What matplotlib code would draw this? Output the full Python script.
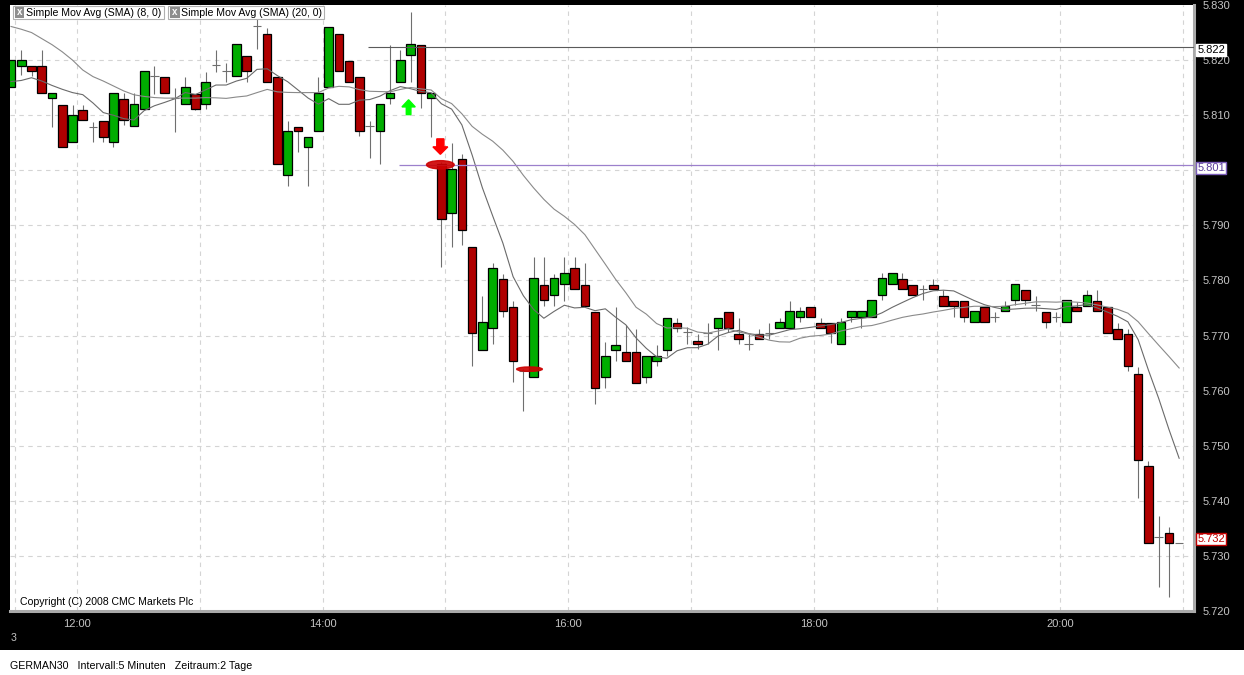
import numpy as np
import pandas as pd
import matplotlib
matplotlib.use("Agg")
import matplotlib.pyplot as plt
from matplotlib.patches import Rectangle, Ellipse, FancyArrow
from matplotlib.transforms import blended_transform_factory

plt.rcParams["font.family"] = ["Liberation Sans", "DejaVu Sans"]

# ── GERMAN30, 5-Minuten-Kerzen (Punkte) ─────────────────────
opens = [5815.1, 5818.9, 5818.9, 5818.9, 5813.2, 5811.9, 5805.2, 5811.0, 5807.9, 5809.0,
         5805.2, 5813.0, 5808.1, 5811.2, 5817.1, 5817.0, 5813.2, 5812.1, 5813.9, 5812.1,
         5819.1, 5818.0, 5817.1, 5820.8, 5826.2, 5824.7, 5817.0, 5799.2, 5807.9, 5804.3,
         5807.2, 5815.1, 5824.7, 5819.9, 5817.0, 5808.1, 5807.2, 5813.2, 5816.0, 5820.9,
         5822.8, 5813.2, 5801.2, 5792.3, 5802.1, 5786.1, 5767.3, 5771.3, 5780.2, 5775.1,
         5763.5, 5762.4, 5779.1, 5777.3, 5779.3, 5782.2, 5779.1, 5774.2, 5762.4, 5767.3,
         5767.1, 5767.1, 5762.4, 5765.3, 5767.3, 5772.2, 5770.6, 5769.1, 5770.4, 5771.3,
         5774.2, 5770.2, 5768.4, 5770.2, 5770.4, 5771.3, 5771.3, 5773.3, 5775.1, 5772.2,
         5772.2, 5768.4, 5773.3, 5773.3, 5773.3, 5777.3, 5779.3, 5780.2, 5779.1, 5778.4,
         5779.1, 5777.1, 5776.2, 5776.2, 5772.4, 5775.1, 5773.3, 5774.4, 5776.4, 5778.2,
         5775.5, 5774.2, 5773.3, 5772.4, 5775.1, 5775.3, 5776.2, 5775.1, 5771.1, 5770.2,
         5763.1, 5746.3, 5733.4, 5734.1, 5732.3]
highs = [5820.0, 5821.8, 5818.9, 5821.8, 5814.1, 5811.9, 5811.9, 5811.9, 5808.8, 5809.0,
         5814.1, 5814.0, 5814.0, 5818.0, 5818.9, 5817.0, 5815.0, 5817.0, 5813.9, 5817.9,
         5821.8, 5819.5, 5822.9, 5820.8, 5829.6, 5825.8, 5817.0, 5809.0, 5807.9, 5806.1,
         5817.0, 5826.0, 5824.7, 5819.9, 5817.0, 5809.0, 5812.1, 5822.8, 5821.8, 5828.7,
         5822.8, 5814.1, 5801.5, 5805.0, 5803.0, 5786.1, 5777.1, 5783.1, 5781.1, 5776.2,
         5763.9, 5784.2, 5784.2, 5781.1, 5784.2, 5784.2, 5783.1, 5774.2, 5768.9, 5775.1,
         5772.0, 5771.1, 5766.2, 5768.3, 5773.1, 5773.1, 5771.6, 5770.2, 5772.2, 5773.1,
         5774.2, 5773.1, 5770.2, 5771.1, 5772.2, 5773.1, 5776.2, 5775.1, 5775.1, 5773.1,
         5772.2, 5773.1, 5774.4, 5774.4, 5776.4, 5781.3, 5781.3, 5781.3, 5779.1, 5779.1,
         5780.2, 5778.2, 5776.2, 5776.2, 5774.4, 5775.1, 5774.2, 5776.2, 5779.3, 5778.2,
         5777.1, 5774.2, 5774.2, 5776.4, 5776.0, 5778.2, 5778.2, 5775.1, 5772.2, 5771.1,
         5764.2, 5747.2, 5737.2, 5735.2, 5732.3]
lows = [5815.1, 5817.3, 5817.1, 5814.1, 5807.9, 5804.3, 5805.2, 5809.2, 5805.2, 5805.2,
        5804.3, 5808.3, 5808.1, 5811.2, 5813.9, 5814.1, 5807.0, 5812.1, 5811.0, 5811.2,
        5817.9, 5816.0, 5817.1, 5816.0, 5822.0, 5816.0, 5801.2, 5797.2, 5803.4, 5797.2,
        5807.2, 5815.1, 5818.0, 5816.0, 5806.3, 5802.3, 5801.2, 5812.1, 5816.0, 5816.0,
        5811.3, 5806.1, 5782.5, 5786.1, 5786.5, 5764.4, 5767.3, 5768.4, 5773.3, 5761.5,
        5756.3, 5762.4, 5775.3, 5775.3, 5776.2, 5778.4, 5775.3, 5757.5, 5760.4, 5765.3,
        5765.3, 5761.3, 5761.3, 5764.4, 5766.2, 5770.6, 5768.4, 5767.5, 5768.4, 5767.3,
        5770.6, 5768.4, 5767.3, 5769.3, 5769.3, 5771.3, 5771.3, 5772.4, 5773.3, 5771.3,
        5768.6, 5768.4, 5772.4, 5771.4, 5773.3, 5776.4, 5779.3, 5778.4, 5777.3, 5776.4,
        5778.4, 5775.3, 5773.3, 5772.4, 5772.4, 5772.4, 5772.4, 5774.4, 5775.5, 5775.5,
        5774.4, 5771.4, 5772.4, 5772.4, 5774.4, 5775.3, 5774.4, 5770.4, 5769.3, 5763.5,
        5740.5, 5732.3, 5724.4, 5722.5, 5732.3]
closes = [5820.0, 5820.0, 5818.0, 5814.1, 5814.1, 5804.3, 5810.1, 5809.2, 5807.9, 5806.1,
          5814.1, 5809.2, 5812.1, 5818.0, 5817.1, 5814.1, 5813.2, 5815.1, 5811.2, 5816.0,
          5819.1, 5818.0, 5822.9, 5818.0, 5826.2, 5816.0, 5801.2, 5807.2, 5807.2, 5806.1,
          5814.1, 5826.0, 5818.0, 5816.0, 5807.2, 5808.1, 5812.1, 5814.1, 5820.0, 5822.9,
          5814.1, 5814.1, 5791.2, 5800.3, 5789.2, 5770.4, 5772.4, 5782.3, 5774.4, 5765.3,
          5763.5, 5780.4, 5776.4, 5780.4, 5781.3, 5778.4, 5775.3, 5760.4, 5766.2, 5768.3,
          5765.3, 5761.3, 5766.2, 5766.2, 5773.1, 5771.3, 5770.6, 5768.4, 5770.4, 5773.1,
          5771.3, 5769.3, 5768.4, 5769.3, 5770.4, 5772.4, 5774.4, 5774.4, 5773.3, 5771.3,
          5770.4, 5772.4, 5774.4, 5774.4, 5776.4, 5780.4, 5781.3, 5778.4, 5777.3, 5778.4,
          5778.4, 5775.3, 5775.3, 5773.3, 5774.4, 5772.4, 5773.3, 5775.3, 5779.3, 5776.4,
          5775.5, 5772.4, 5773.3, 5776.4, 5774.4, 5777.3, 5774.4, 5770.4, 5769.3, 5764.4,
          5747.4, 5732.3, 5733.4, 5732.3, 5732.3]

# SMA-Werte am Anfang (Fenster noch nicht voll, aus dem Chart abgelesen)
sma8_head = [5816.1, 5816.3, 5816.8, 5816.2, 5815.4, 5814.7, 5814.1]
sma20_head = [5826.1, 5825.6, 5825.0, 5823.9, 5822.8, 5821.5, 5820.0, 5818.2, 5817.0, 5816.2,
              5815.3, 5814.4, 5813.7, 5813.4, 5813.2, 5813.1, 5813.1, 5813.1, 5813.1]

price_ticks = [5720, 5730, 5740, 5750, 5760, 5770, 5780, 5790, 5800, 5810, 5820, 5830]
grid_times = ["11:30", "12:00", "13:00", "14:00", "15:00", "16:00", "17:00",
              "18:00", "19:00", "20:00", "21:00"]
time_labels = ["12:00", "14:00", "16:00", "18:00", "20:00"]
first_bar_time = "11:28"

line_black = 5822.3     # Linie "5.822"
line_purple = 5801.0    # Linie "5.801"
last_price = 5732.3

# ── Farben ───────────────────────────────────────────────────
GREEN = "#00ad00"
RED = "#b00000"
WICK = "#6f6f6f"
GRID = "#d4d4d4"
AXTXT = "#c4c4c4"

W, H = 1244, 675
fig = plt.figure(figsize=(W / 100, H / 100), dpi=100, facecolor="black")
ax = fig.add_axes([10 / W, (H - 611) / H, 1184 / W, 606 / H])
ax.set_facecolor("white")

def tmin(s):
    h, m = s.split(":")
    return int(h) * 60 + int(m)

def tpos(s):
    return (tmin(s) - tmin(first_bar_time)) / 5.0

n = len(closes)
x = np.arange(n)
o = np.array(opens); h = np.array(highs); l = np.array(lows); c = np.array(closes)
BW = 0.84

# Gitter
for t in grid_times:
    ax.axvline(tpos(t), color=GRID, lw=0.8, ls=(0, (4, 4)), zorder=0)
for p in price_ticks[1:-1]:
    ax.axhline(p, color=GRID, lw=0.8, ls=(0, (4, 4)), zorder=0)

# Dochte
ax.vlines(x, l, h, color=WICK, lw=0.8, zorder=1)
# Doji
doji = o == c
ax.hlines(o[doji], x[doji] - BW / 2, x[doji] + BW / 2, color=WICK, lw=0.8, zorder=1)
# Körper
up = c > o
dn = c < o
ax.bar(x[up], (c - o)[up], bottom=o[up], width=BW, color=GREEN,
       edgecolor="black", linewidth=0.9, zorder=2)
ax.bar(x[dn], (o - c)[dn], bottom=c[dn], width=BW, color=RED,
       edgecolor="black", linewidth=0.9, zorder=2)

# gleitende Durchschnitte
sma8 = pd.Series(closes).rolling(8).mean().to_numpy()
sma8[:len(sma8_head)] = sma8_head
sma20 = pd.Series(closes).rolling(20).mean().to_numpy()
sma20[:len(sma20_head)] = sma20_head
ax.plot(x, sma8, color="#6a6a6a", lw=0.8, zorder=3)
ax.plot(x, sma20, color="#8a8a8a", lw=0.8, zorder=3)

x0, x1 = -0.1, 115.45
ax.set_xlim(x0, x1)
ax.set_ylim(5720, 5830)

# horizontale Linien
ax.hlines(line_black, 34.8, x1, color="#5a5a5a", lw=0.8, zorder=3)
ax.hlines(line_purple, 37.9, x1, color="#9c80cc", lw=0.9, zorder=3)

# Markierungen
ax.add_patch(FancyArrow(38.8, 5810.1, 0, 2.7, width=0.45, head_width=1.3, head_length=1.3,
                        length_includes_head=True, color="#00ff00", zorder=4))
ax.add_patch(FancyArrow(41.9, 5805.7, 0, -2.8, width=0.7, head_width=1.45, head_length=1.35,
                        length_includes_head=True, color="#ff0000", zorder=4))
ax.add_patch(Ellipse((41.9, 5801.0), 2.7, 1.5, color="#cc0000", alpha=0.9, zorder=4))
ax.add_patch(Ellipse((50.6, 5763.9), 2.5, 0.8, color="#cc0000", alpha=0.9, zorder=4))

# Achsen
for s in ["left", "top"]:
    ax.spines[s].set_visible(False)
for s in ["right", "bottom"]:
    ax.spines[s].set_color("#a9a9a9")
    ax.spines[s].set_linewidth(2.2)

# Markenkästchen rechts: (Wert, Kastenmitte, Textfarbe, Rahmenfarbe)
marker_boxes = [(line_black, line_black - 0.4, "black", "white"),
                (line_purple, line_purple - 0.6, "#5a3c99", "#7a5cb8"),
                (last_price, last_price + 0.7, "#c00000", "#c00000")]
hidden = [p for p in price_ticks
          if any(abs(p - bc) < 1.2 for _, bc, _, _ in marker_boxes)]

ax.yaxis.tick_right()
ax.set_yticks(price_ticks)
ax.set_yticklabels(["" if p in hidden else f"{p / 1000:.3f}" for p in price_ticks])
ax.set_xticks([tpos(t) for t in time_labels])
ax.set_xticklabels(time_labels)
ax.tick_params(axis="y", length=0, pad=6, labelsize=8, labelcolor=AXTXT)
ax.tick_params(axis="x", length=0, pad=6, labelsize=8, labelcolor=AXTXT)

tr = blended_transform_factory(ax.transAxes, ax.transData)
for val, bc, tc, ec in marker_boxes:
    ax.text(1.0028, bc, f"{val / 1000:.3f}", color=tc, va="center", ha="left",
            fontsize=8, transform=tr, zorder=6, clip_on=False,
            bbox=dict(boxstyle="square,pad=0.08", fc="white", ec=ec, lw=1))

# Legende oben links
def fx(px):
    return px / W

def fy(py):
    return 1 - py / H

for bx0, bx1, label in [(13, 164, "Simple Mov Avg (SMA) (8, 0)"),
                        (168, 324, "Simple Mov Avg (SMA) (20, 0)")]:
    fig.patches.append(Rectangle((fx(bx0), fy(19)), fx(bx1 - bx0), 13 / H,
                                 transform=fig.transFigure, fc="white", ec="#b0b0b0", lw=0.8))
    fig.patches.append(Rectangle((fx(bx0 + 1.5), fy(17.5)), fx(10), 10 / H,
                                 transform=fig.transFigure, fc="#8e8e8e", ec="#8e8e8e", lw=0))
    fig.text(fx(bx0 + 6.5), fy(12.3), "x", color="white", fontsize=7, fontweight="bold",
             ha="center", va="center")
    fig.text(fx(bx0 + 13), fy(12.5), label, color="black", fontsize=7.6, va="center")

fig.text(fx(20), fy(602), "Copyright (C) 2008 CMC Markets Plc", color="black",
         fontsize=7.6, va="center")
fig.text(fx(11), fy(638), "3", color=AXTXT, fontsize=7.6, va="center")

# weiße Statuszeile
fig.patches.append(Rectangle((0, 0), 1, 25 / H, transform=fig.transFigure,
                             fc="white", ec="none"))
fig.text(fx(10), fy(666), "GERMAN30   Intervall:5 Minuten   Zeitraum:2 Tage",
         color="black", fontsize=7.7, va="center")

fig.savefig("out.png", dpi=100, facecolor=fig.get_facecolor())
